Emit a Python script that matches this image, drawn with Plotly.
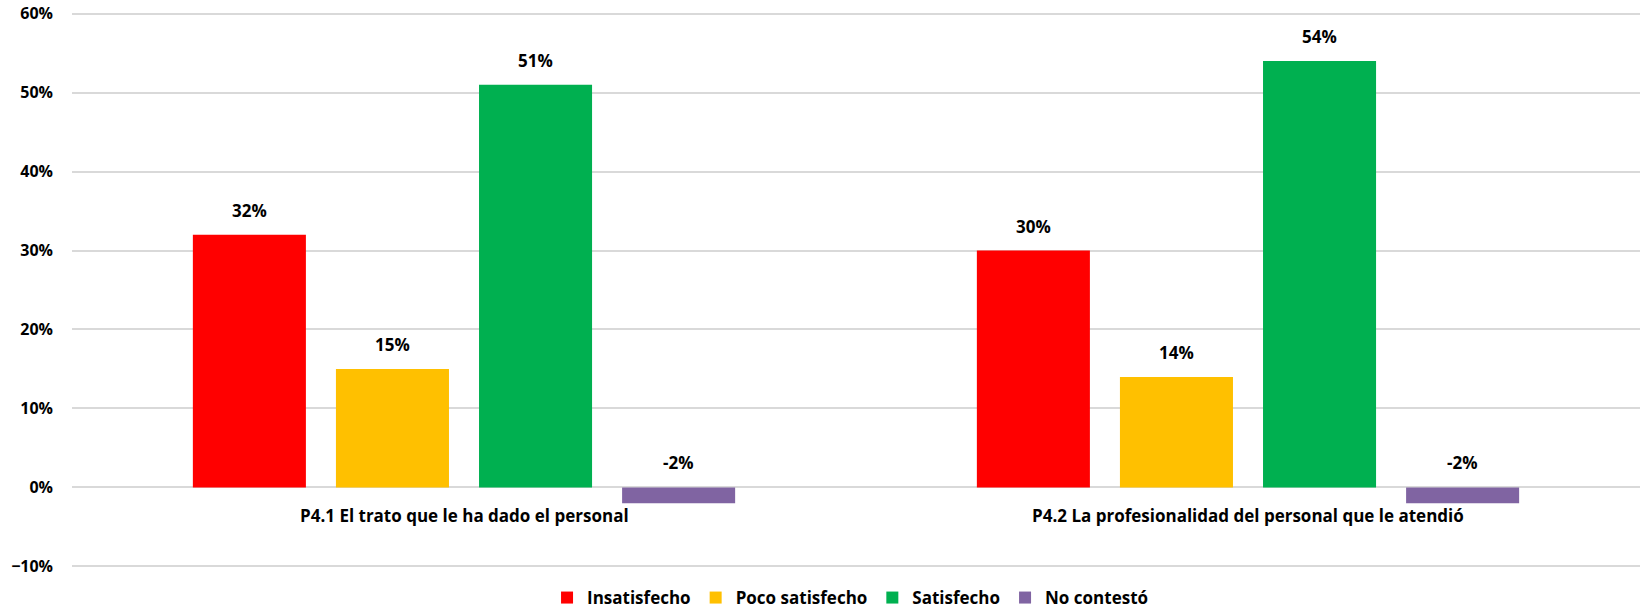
import plotly.graph_objects as go

categories = [
    "P4.1 El trato que le ha dado el personal",
    "P4.2 La profesionalidad del personal que le atendió",
]
series_names = ["Insatisfecho", "Poco satisfecho", "Satisfecho", "No contestó"]
insatisfecho = [0.32, 0.30]
poco_satisfecho = [0.15, 0.14]
satisfecho = [0.51, 0.54]
no_contesto = [-0.02, -0.02]
colors = ["#FF0000", "#FFC000", "#00B050", "#8064A2"]

series_values = [insatisfecho, poco_satisfecho, satisfecho, no_contesto]
font_family = "Open Sans"
bargap = 0.27
bargroupgap = 0.21

fig = go.Figure()
for name, vals, col in zip(series_names, series_values, colors):
    fig.add_trace(go.Bar(
        name=name, x=categories, y=vals, marker_color=col,
        marker_line_width=0, hoverinfo="skip",
    ))

# value labels sit above each bar (above the zero line for negatives)
n = len(series_names)
slot = (1 - bargap) / n
annotations = []
for i, vals in enumerate(series_values):
    for j, v in enumerate(vals):
        annotations.append(dict(
            x=j + (i - (n - 1) / 2) * slot, y=max(v, 0), xref="x", yref="y",
            text=f"<b>{round(v * 100):d}%</b>", showarrow=False,
            yanchor="bottom", yshift=11,
            font=dict(family=font_family, size=17, color="#000000"),
        ))

# category labels drawn just under the zero line
for j, cat in enumerate(categories):
    annotations.append(dict(
        x=j, y=0, xref="x", yref="y", text=f"<b>{cat}</b>", showarrow=False,
        yanchor="middle", yshift=-28,
        font=dict(family=font_family, size=17, color="#000000"),
    ))

fig.update_layout(
    width=1641, height=608,
    margin=dict(l=72, r=1, t=12, b=40, autoexpand=False),
    paper_bgcolor="#FFFFFF", plot_bgcolor="#FFFFFF",
    barmode="group", bargap=bargap, bargroupgap=bargroupgap,
    font=dict(family=font_family, size=17, color="#000000"),
    showlegend=True,
    legend=dict(
        orientation="h", x=0.518, xanchor="center", xref="container",
        y=10 / 608, yanchor="middle", yref="container",
        font=dict(family=font_family, size=17, color="#000000", weight="bold"),
        itemwidth=30, tracegroupgap=0, traceorder="normal",
    ),
    annotations=annotations,
    xaxis=dict(showticklabels=False, showgrid=False, zeroline=False,
               showline=False, ticks=""),
    yaxis=dict(
        range=[-0.102, 0.602], dtick=0.1, tickformat=".0%",
        showgrid=True, gridcolor="#D9D9D9", gridwidth=2,
        zeroline=True, zerolinecolor="#D9D9D9", zerolinewidth=2,
        showline=False, ticks="", ticklabelstandoff=18,
        tickfont=dict(family=font_family, size=16, color="#000000", weight="bold"),
    ),
)

fig.write_html("out.html")
